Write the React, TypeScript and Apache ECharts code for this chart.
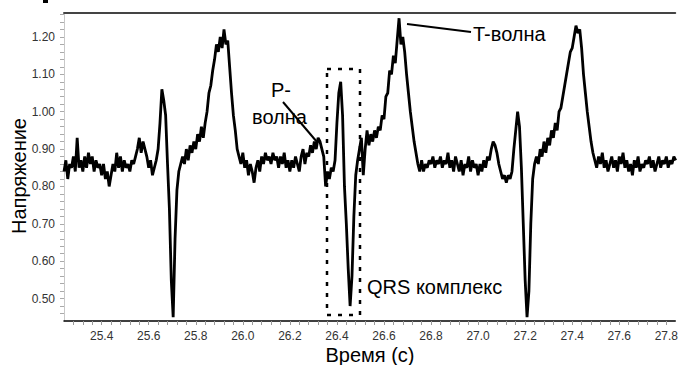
import React, { useEffect, useRef } from "react";
import * as echarts from "echarts";

// Sampling grid of the recorded signal (seconds)
const T0 = 25.24;
const STEP = 0.008;

// Voltage readings, one per sample
const voltage: number[] = [
  0.84, 0.87, 0.82, 0.86, 0.85, 0.88, 0.84, 0.93, 0.85, 0.87,
  0.84, 0.88, 0.85, 0.89, 0.86, 0.88, 0.84, 0.87, 0.85, 0.86,
  0.83, 0.86, 0.82, 0.84, 0.80, 0.83, 0.86, 0.84, 0.89, 0.85,
  0.88, 0.84, 0.87, 0.85, 0.86, 0.84, 0.87, 0.86, 0.88, 0.90,
  0.93, 0.89, 0.92, 0.90, 0.88, 0.85, 0.87, 0.83, 0.85, 0.87,
  0.90, 0.97, 1.06, 1.03, 0.99, 0.86, 0.74, 0.55, 0.45, 0.66,
  0.79, 0.84, 0.86, 0.88, 0.86, 0.90, 0.87, 0.91, 0.89, 0.92,
  0.90, 0.94, 0.92, 0.96, 0.93, 0.97, 1.00, 1.05, 1.07, 1.11,
  1.14, 1.18, 1.16, 1.20, 1.17, 1.22, 1.18, 1.19, 1.12, 1.05,
  0.99, 0.95, 0.90, 0.88, 0.86, 0.89, 0.85, 0.87, 0.83, 0.86,
  0.84, 0.81, 0.85, 0.87, 0.84, 0.88, 0.86, 0.89, 0.87, 0.88,
  0.86, 0.89, 0.87, 0.88, 0.85, 0.88, 0.86, 0.89, 0.85, 0.87,
  0.84, 0.87, 0.85, 0.88, 0.86, 0.84, 0.88, 0.90, 0.86, 0.89,
  0.88, 0.91, 0.89, 0.92, 0.90, 0.93, 0.92, 0.90, 0.88, 0.80,
  0.84, 0.82, 0.85, 0.84, 0.87, 0.97, 1.05, 1.08, 0.99, 0.80,
  0.70, 0.58, 0.48, 0.56, 0.72, 0.83, 0.87, 0.90, 0.93, 0.83,
  0.90, 0.95, 0.91, 0.94, 0.92, 0.95, 0.93, 0.96, 0.95, 0.99,
  0.98, 1.04, 1.05, 1.11, 1.10, 1.15, 1.13, 1.19, 1.25, 1.18,
  1.20, 1.16, 1.10, 1.05, 1.00, 0.96, 0.92, 0.89, 0.86, 0.84,
  0.87, 0.84, 0.86, 0.85, 0.87, 0.86, 0.88, 0.85, 0.87, 0.86,
  0.88, 0.85, 0.87, 0.86, 0.89, 0.85, 0.87, 0.84, 0.88, 0.86,
  0.84, 0.87, 0.83, 0.86, 0.85, 0.88, 0.84, 0.87, 0.85, 0.86,
  0.83, 0.86, 0.84, 0.87, 0.85, 0.88, 0.87, 0.90, 0.92, 0.91,
  0.89, 0.86, 0.84, 0.82, 0.83, 0.81, 0.83, 0.82, 0.84, 0.90,
  0.95, 1.00, 0.96, 0.85, 0.70, 0.55, 0.45, 0.52, 0.70, 0.82,
  0.86, 0.88, 0.86, 0.90, 0.88, 0.92, 0.89, 0.93, 0.91, 0.95,
  0.93, 0.97, 0.95, 1.00, 1.01, 1.04, 1.07, 1.10, 1.13, 1.16,
  1.17, 1.20, 1.23, 1.21, 1.22, 1.17, 1.10, 1.05, 1.00, 0.96,
  0.92, 0.89, 0.87, 0.85, 0.88, 0.86, 0.89, 0.85, 0.87, 0.84,
  0.86, 0.88, 0.85, 0.87, 0.84, 0.88, 0.86, 0.89, 0.85, 0.87,
  0.84, 0.86, 0.83, 0.87, 0.85, 0.88, 0.84, 0.86, 0.85, 0.87,
  0.86, 0.88, 0.85, 0.87, 0.84, 0.86, 0.88, 0.85, 0.87, 0.86,
  0.88, 0.85, 0.87, 0.86, 0.88, 0.87,
];

const X_MIN = 25.24;
const X_MAX = 27.838;
const X_TICK = 0.04;
const X_LABEL_STEP = 0.2;
const Y_MIN = 0.44;
const Y_MAX = 1.264;
const Y_TICK = 0.02;
const Y_LABEL_STEP = 0.1;

const X_TITLE = "Время (с)";
const Y_TITLE = "Напряжение";
const P_LABEL_1 = "P-";
const P_LABEL_2 = "волна";
const T_LABEL = "T-волна";
const QRS_LABEL = "QRS комплекс";

const FONT = "'Liberation Sans', Arial, sans-serif";

function isMultiple(v: number, step: number) {
  const r = v / step;
  return Math.abs(r - Math.round(r)) < 1e-6;
}

export default function App() {
  const ref = useRef<HTMLDivElement>(null);
  useEffect(() => {
    if (!ref.current) return;
    const chart = echarts.init(ref.current, undefined, { renderer: "svg" });
    const data = voltage.map((v, i) => [T0 + i * STEP, v]);
    chart.setOption({
      animation: false,
      backgroundColor: "#ffffff",
      grid: { left: 64, right: 0, top: 13, bottom: 44 },
      xAxis: [
        {
          type: "value",
          min: X_MIN,
          max: X_MAX,
          interval: X_TICK,
          axisLine: { show: true, onZero: false, lineStyle: { color: "#000", width: 1.5 } },
          axisTick: { show: true, length: 4, lineStyle: { color: "#999" } },
          axisLabel: {
            interval: 0,
            showMinLabel: false,
            showMaxLabel: false,
            margin: 9,
            color: "#333",
            fontSize: 12,
            fontFamily: FONT,
            formatter: (v: number) => (isMultiple(v, X_LABEL_STEP) ? v.toFixed(1) : ""),
          },
          splitLine: { show: false },
        },
        {
          type: "value",
          position: "top",
          min: X_MIN,
          max: X_MAX,
          axisLine: { show: true, onZero: false, lineStyle: { color: "#444", width: 2 } },
          axisTick: { show: false },
          axisLabel: { show: false },
          splitLine: { show: false },
        },
      ],
      yAxis: {
        type: "value",
        min: Y_MIN,
        max: Y_MAX,
        interval: Y_TICK,
        axisLine: { show: true, onZero: false, lineStyle: { color: "#c8c8c8", width: 1 } },
        axisTick: { show: true, length: 4, lineStyle: { color: "#aaa" } },
        axisLabel: {
          interval: 0,
          showMinLabel: false,
          showMaxLabel: false,
          margin: 9,
          color: "#333",
          fontSize: 12,
          fontFamily: FONT,
          formatter: (v: number) => (isMultiple(v, Y_LABEL_STEP) ? v.toFixed(2) : ""),
        },
        splitLine: { show: false },
      },
      series: [
        {
          type: "line",
          xAxisIndex: 0,
          data,
          showSymbol: false,
          symbol: "none",
          lineStyle: { color: "#000", width: 2.8, join: "miter", miterLimit: 2 },
          z: 3,
        },
      ],
      graphic: [
        { type: "rect", left: 43, top: 0, shape: { width: 5, height: 3 }, style: { fill: "#000" } },
        {
          type: "text",
          x: 19,
          y: 176,
          rotation: Math.PI / 2,
          style: { text: Y_TITLE, fill: "#000", fontSize: 20, fontFamily: FONT, align: "center", verticalAlign: "middle" },
        },
        {
          type: "text",
          x: 370,
          y: 355,
          style: { text: X_TITLE, fill: "#000", fontSize: 20, fontFamily: FONT, align: "center", verticalAlign: "middle" },
        },
        {
          type: "text",
          x: 271,
          y: 90,
          style: { text: P_LABEL_1, fill: "#000", fontSize: 20, fontFamily: FONT, align: "left", verticalAlign: "middle" },
        },
        {
          type: "text",
          x: 252,
          y: 117,
          style: { text: P_LABEL_2, fill: "#000", fontSize: 20, fontFamily: FONT, align: "left", verticalAlign: "middle" },
        },
        {
          type: "line",
          shape: { x1: 283, y1: 102, x2: 317, y2: 142 },
          style: { stroke: "#000", lineWidth: 2 },
        },
        {
          type: "text",
          x: 473,
          y: 34,
          style: { text: T_LABEL, fill: "#000", fontSize: 20, fontFamily: FONT, align: "left", verticalAlign: "middle" },
        },
        {
          type: "line",
          shape: { x1: 407, y1: 24, x2: 471, y2: 32 },
          style: { stroke: "#000", lineWidth: 2 },
        },
        {
          type: "text",
          x: 367,
          y: 287,
          style: { text: QRS_LABEL, fill: "#000", fontSize: 20, fontFamily: FONT, align: "left", verticalAlign: "middle" },
        },
        {
          type: "rect",
          shape: { x: 327, y: 69, width: 33, height: 246 },
          style: { fill: "none", stroke: "#000", lineWidth: 2.5, lineDash: [4, 7] },
          z: 10,
        },
      ],
    });
    return () => chart.dispose();
  }, []);
  return (
    <div
      ref={ref}
      style={{ position: "fixed", left: 0, top: 0, width: 681, height: 365, background: "#fff" }}
    />
  );
}
